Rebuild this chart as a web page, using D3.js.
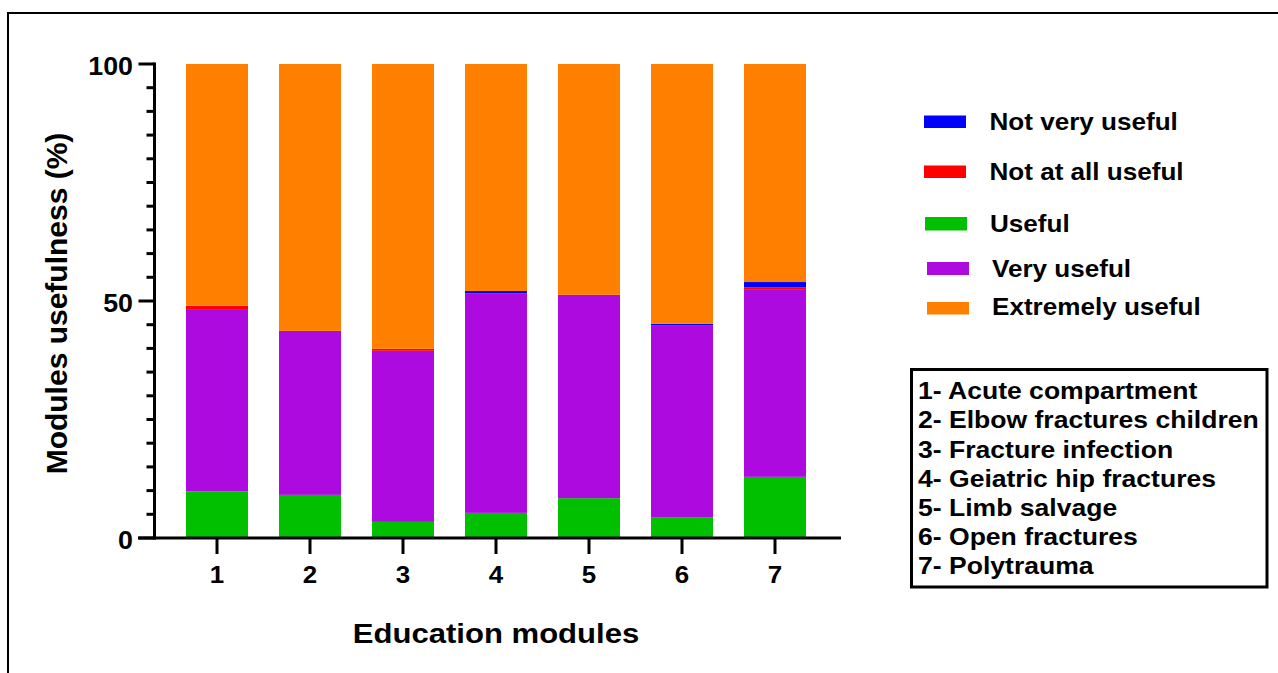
<!DOCTYPE html>
<html>
<head>
<meta charset="utf-8">
<script src="https://cdn.jsdelivr.net/npm/d3@7"></script>
<style>
  html, body { margin: 0; padding: 0; background: #fff; }
  svg { display: block; font-family: "Liberation Sans", Arial, sans-serif; font-weight: bold; }
</style>
</head>
<body>
<svg id="chart" width="1278" height="673"></svg>
<script>
// ---- data ----
const modules = ["1", "2", "3", "4", "5", "6", "7"];
const useful          = [9.8, 9.1, 3.4, 5.3, 8.4, 4.4, 12.9];
const veryUseful      = [38.5, 34.6, 36.1, 46.3, 42.9, 40.5, 39.6];
const notAtAllUseful  = [0.7, 0.0, 0.4, 0.0, 0.0, 0.0, 0.4];
const notVeryUseful   = [0.0, 0.0, 0.0, 0.5, 0.0, 0.3, 1.1];
const extremelyUseful = [51.0, 56.3, 60.1, 47.9, 48.7, 54.8, 46.0];
const yTicks = [0, 50, 100];
const yMinorTicks = d3.range(0, 101, 5);
const legendLabels = ["Not very useful", "Not at all useful", "Useful", "Very useful", "Extremely useful"];
const moduleNames = ["1- Acute compartment", "2- Elbow fractures children", "3- Fracture infection",
  "4- Geiatric hip fractures", "5- Limb salvage", "6- Open fractures", "7- Polytrauma"];

const seriesKeys = ["useful", "veryUseful", "notAtAll", "notVery", "extremely"];
const colors = { useful: "#00C000", veryUseful: "#AD0AE0", notAtAll: "#FF0000", notVery: "#0000FF", extremely: "#FF8000" };
const legendKeys = ["notVery", "notAtAll", "useful", "veryUseful", "extremely"];

const table = modules.map((m, i) => ({
  module: m,
  useful: useful[i], veryUseful: veryUseful[i], notAtAll: notAtAllUseful[i],
  notVery: notVeryUseful[i], extremely: extremelyUseful[i]
}));

const svg = d3.select("#chart");
const SX = 1.14; // horizontal stretch of the text in the reference

function stext(g, x, y, str, size, anchor, sx) {
  return g.append("text")
    .attr("transform", `translate(${x},${y}) scale(${sx === undefined ? SX : sx},1)`)
    .attr("text-anchor", anchor || "start")
    .attr("font-size", size)
    .attr("fill", "#000")
    .text(str);
}

// outer frame (open at right / bottom)
svg.append("path")
  .attr("d", "M8,673 L8,13 L1278,13")
  .attr("fill", "none").attr("stroke", "#000").attr("stroke-width", 2);

// scales
const x = d3.scaleBand().domain(modules).range([170.5, 821.5]).paddingInner(1/3).paddingOuter(1/6);
const y = d3.scaleLinear().domain([0, 100]).range([538, 64]);

// bars
const stack = d3.stack().keys(seriesKeys)(table);
const layers = svg.append("g").selectAll("g").data(stack).join("g")
  .attr("fill", d => colors[d.key]);
layers.selectAll("rect").data(d => d).join("rect")
  .attr("x", d => x(d.data.module))
  .attr("width", x.bandwidth())
  .attr("y", d => y(d[1]))
  .attr("height", d => Math.max(0, y(d[0]) - y(d[1])));

// y axis
const axisX = 154.5;
const ay = svg.append("g");
ay.append("line").attr("x1", axisX).attr("x2", axisX).attr("y1", y(100) - 1.5).attr("y2", y(0) + 1.5)
  .attr("stroke", "#000").attr("stroke-width", 3);
ay.selectAll("line.minor").data(yMinorTicks.filter(v => !yTicks.includes(v))).join("line")
  .attr("class", "minor")
  .attr("x1", axisX - 8).attr("x2", axisX).attr("y1", d => y(d)).attr("y2", d => y(d))
  .attr("stroke", "#000").attr("stroke-width", 3);
ay.selectAll("line.major").data(yTicks).join("line")
  .attr("class", "major")
  .attr("x1", axisX - 16).attr("x2", axisX).attr("y1", d => y(d)).attr("y2", d => y(d))
  .attr("stroke", "#000").attr("stroke-width", 3);
yTicks.forEach(v => stext(ay, 133, y(v) + 11, String(v), 25.5, "end", 1.05));

// x axis
const ax = svg.append("g");
ax.append("line").attr("x1", 138).attr("x2", 841).attr("y1", y(0)).attr("y2", y(0))
  .attr("stroke", "#000").attr("stroke-width", 3);
ax.selectAll("line.xt").data(modules).join("line")
  .attr("class", "xt")
  .attr("x1", d => x(d) + x.bandwidth() / 2).attr("x2", d => x(d) + x.bandwidth() / 2)
  .attr("y1", y(0)).attr("y2", y(0) + 16)
  .attr("stroke", "#000").attr("stroke-width", 3);
modules.forEach(m => stext(ax, x(m) + x.bandwidth() / 2, 583, m, 24, "middle", 1.08));

// axis titles
stext(svg, 496, 643, "Education modules", 27.5, "middle", 1.13);
svg.append("text")
  .attr("transform", "translate(67,303.5) rotate(-90)")
  .attr("text-anchor", "middle").attr("font-size", 30).attr("fill", "#000")
  .text("Modules usefulness (%)");

// legend
const legendRows = [
  { y: 130, sy: 115.5, sh: 12.5, sx: 924, tx: 989.5 },
  { y: 180, sy: 165.5, sh: 12.5, sx: 924, tx: 989.5 },
  { y: 232, sy: 217, sh: 13.5, sx: 925, tx: 990 },
  { y: 276.5, sy: 262, sh: 13, sx: 927, tx: 992 },
  { y: 315, sy: 302, sh: 12.5, sx: 927, tx: 992 }
];
const lg = svg.append("g");
legendKeys.forEach((k, i) => {
  const r = legendRows[i];
  lg.append("rect").attr("x", r.sx).attr("y", r.sy).attr("width", 42).attr("height", r.sh)
    .attr("fill", colors[k]);
  stext(lg, r.tx, r.y, legendLabels[i], 23.5, "start", 1.11);
});

// module names box
const box = svg.append("g");
box.append("rect").attr("x", 911.5).attr("y", 369.5).attr("width", 355.5).attr("height", 217.5)
  .attr("fill", "none").attr("stroke", "#000").attr("stroke-width", 3);
const baselines = [399.3, 428.4, 457.5, 486.6, 515.7, 544.8, 573.5];
moduleNames.forEach((n, i) => stext(box, 918, baselines[i], n, 23, "start", 1.155));
</script>
</body>
</html>
